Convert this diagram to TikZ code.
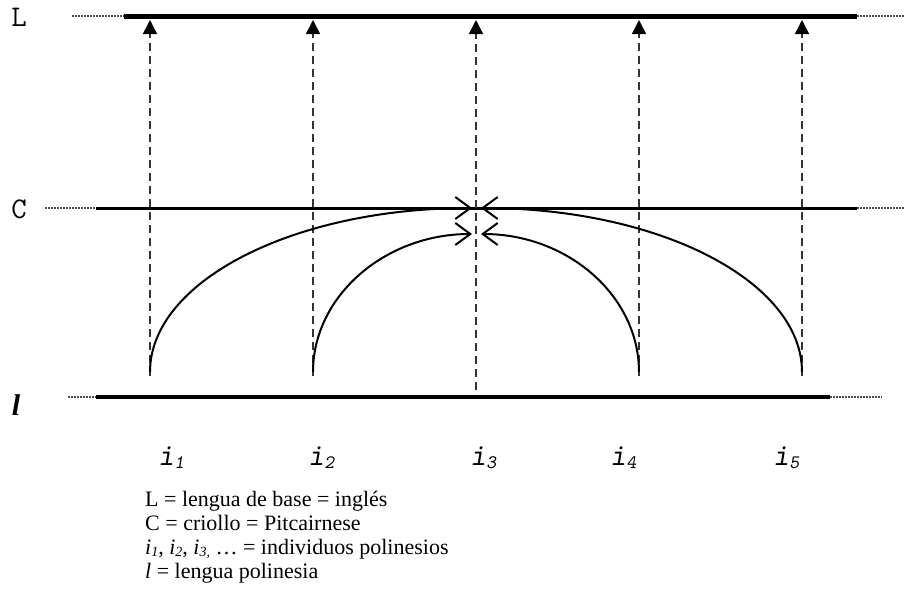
\documentclass[tikz,border=0pt]{standalone}
\usepackage{fontspec}
\setmainfont{Liberation Serif}
\usetikzlibrary{arrows.meta}
\begin{document}
\begin{tikzpicture}[x=1pt,y=-1pt,
  level/.style={line width=#1},
  dotext/.style={line width=1.2pt,dash pattern=on 1.5pt off 1.5pt,black!70},
  vdash/.style={line width=1.6pt,dash pattern=on 8pt off 5pt,black!80},
  uparrow/.style={vdash,-{Triangle[length=14pt,width=14pt,black]}},
  arcline/.style={line width=2pt,-{Straight Barb[length=15pt,width=22pt,line width=2pt]}},
  lvl/.style={font=\ttfamily\fontsize{30}{30}\selectfont,inner sep=0pt},
  ilab/.style={font=\ttfamily\slshape\fontsize{31}{31}\selectfont,inner sep=0pt,anchor=base west},
  leg/.style={font=\fontsize{22}{24}\selectfont,inner sep=0pt,anchor=base west}
]
\useasboundingbox (0,0) rectangle (906,592);
% level coordinates
\coordinate (Ld1) at (72,16); \coordinate (La) at (124,16); \coordinate (Lb) at (857,16); \coordinate (Ld2) at (905,16);
\coordinate (Cd1) at (45,208); \coordinate (Ca) at (96,208); \coordinate (Cb) at (857,208); \coordinate (Cd2) at (905,208);
\coordinate (ld1) at (68,397); \coordinate (la) at (96,397); \coordinate (lb) at (830,397); \coordinate (ld2) at (882,397);
% level lines
\draw[dotext] (Ld1) -- (La); \draw[dotext] (Lb) -- (Ld2);
\draw[level=5pt] (La) -- (Lb);
\draw[dotext] (Cd1) -- (Ca); \draw[dotext] (Cb) -- (Cd2);
\draw[level=3pt] (Ca) -- (Cb);
\draw[dotext] (ld1) -- (la); \draw[dotext] (lb) -- (ld2);
\draw[level=4pt] (la) -- (lb);
% level labels
\node[lvl] (labL) at (19,17) {L};
\node[lvl] (labC) at (19,209) {C};
\node[font=\bfseries\itshape\fontsize{30}{30}\selectfont,inner sep=0pt] (labl) at (16,405) {l};
% verticals
\foreach \n/\x/\b in {1/150/376,2/313/376,3/476/390,4/639/376,5/802/376}{
  \coordinate (b\n) at (\x,\b);
  \coordinate (t\n) at (\x,20);
  \draw[uparrow] (b\n) -- (t\n);
}
% arcs
\coordinate (o1) at (150,372); \coordinate (o5) at (802,372);
\coordinate (n2) at (313,372); \coordinate (n4) at (639,372);
\draw[arcline] (o1) .. controls (150,282) and (292,208) .. (472,208);
\draw[arcline] (o5) .. controls (802,282) and (661,208) .. (481,208);
\draw[arcline] (n2) .. controls (313,296) and (385,234) .. (472,234);
\draw[arcline] (n4) .. controls (639,296) and (568,234) .. (481,234);
% i labels
\foreach \n/\x in {1/158,2/308,3/470,4/610,5/773}{
  \node[ilab] (i\n) at (\x,465) {i\raisebox{-3pt}{\fontsize{19}{19}\selectfont\n}};
}
% legend
\node[leg] (g1) at (145,506) {L = lengua de base = inglés};
\node[leg] (g2) at (145,530) {C = criollo = Pitcairnese};
\node[leg] (g3) at (145,554) {\textit{i}{\fontsize{14}{14}\selectfont\raisebox{-2pt}{\textit{1}}}, \textit{i}{\fontsize{14}{14}\selectfont\raisebox{-2pt}{\textit{2}}}, \textit{i}{\fontsize{14}{14}\selectfont\raisebox{-2pt}{\textit{3,}}} \dots{} = individuos polinesios};
\node[leg] (g4) at (145,578) {\textit{l} = lengua polinesia};
\end{tikzpicture}
\end{document}
